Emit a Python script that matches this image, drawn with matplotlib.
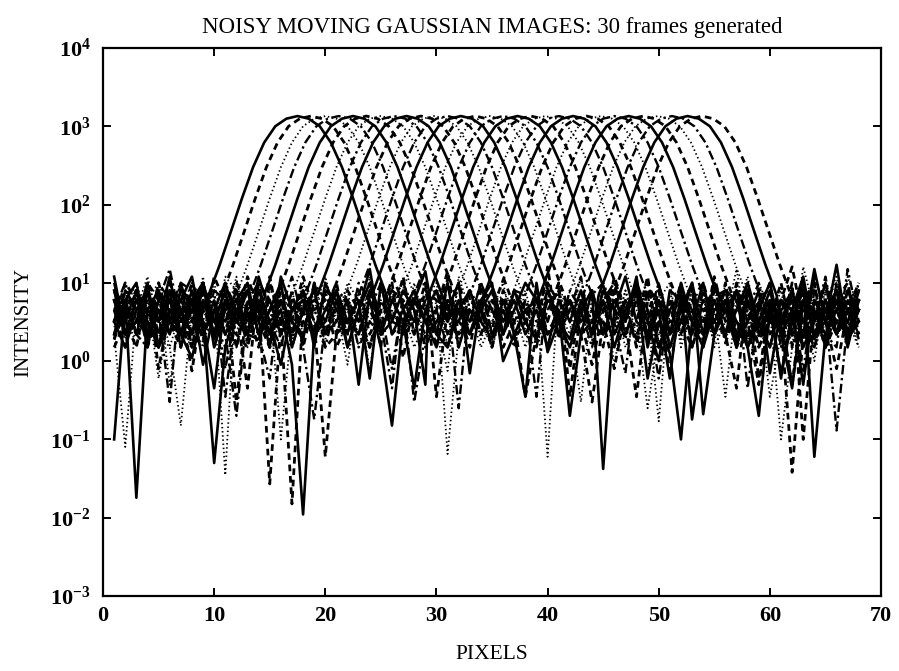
import numpy as np
import matplotlib.pyplot as plt

# pixel positions of every frame (1 .. 68)
pixels = np.arange(1, 69)

# peak centre of each of the 30 frames
frame_centres = [17.5, 18.7, 20.0, 21.2, 22.5, 23.7, 25.0, 26.2, 27.3, 28.6,
                 29.8, 31.0, 32.2, 33.5, 34.8, 36.0, 37.3, 38.5, 39.8, 41.0,
                 42.3, 43.5, 44.8, 46.0, 47.3, 48.6, 49.9, 51.2, 52.6, 53.9]

# gaussian peak, offsets from centre and intensities
peak_offsets = np.arange(-8, 9)
peak_values = [7, 17, 45, 120, 300, 620, 1000, 1250, 1350,
               1250, 1000, 620, 300, 120, 45, 17, 7]

# background noise of each frame, one value per pixel
frame_noise = [
    [2.2, 6, 1.5, 4.5, 3.2, 12, 2.2, 1.1, 4.5, 8, 0.5, 3.2, 10, 2.2, 6, 1.5, 4.5,
     3.2, 8, 2.2, 0.8, 6, 4.5, 10, 1.5, 3.2, 2.7, 6, 14, 2.2, 1.5, 4.5, 8, 3.2,
     1.9, 6, 2.2, 0.35, 10, 1.3, 3.2, 6, 2.2, 8, 1.5, 4.5, 12, 3.2, 2.2, 6, 1.5,
     4.5, 10, 2.2, 3.2, 6, 1.5, 8, 2.7, 4.5, 0.7, 3.2, 10, 6, 2.2, 4.5, 1.9, 3.2],
    [4.5, 1.5, 8, 2.2, 10, 3.2, 1.5, 6, 2.2, 12, 4.5, 0.7, 3.2, 8, 1.5, 4.5, 10,
     2.2, 6, 1.9, 4.5, 12, 2.2, 3.2, 0.45, 8, 4.5, 2.2, 6, 1.5, 10, 3.2, 2.2, 6,
     8, 1.5, 3.2, 4.5, 2.2, 16, 1.9, 6, 3.2, 0.9, 4.5, 8, 2.2, 3.2, 12, 1.5, 4.5,
     2.2, 6, 3.2, 10, 1.7, 4.5, 8, 0.6, 6, 3.2, 14, 2.2, 4.5, 1.5, 8, 3.2, 6],
    [10, 3.2, 2.2, 6, 0.6, 4.5, 8, 3.2, 12, 1.5, 6, 2.2, 4.5, 1.3, 8, 3.2, 2.2,
     6, 1.5, 10, 4.5, 2.2, 3.2, 8, 1.9, 4.5, 10, 2.2, 6, 3.2, 0.75, 12, 4.5, 2.2,
     3.2, 8, 4.5, 1.5, 6, 2.2, 10, 3.2, 0.3, 6, 4.5, 2.2, 8, 2.1, 3.2, 6, 10,
     1.5, 4.5, 2.2, 8, 3.2, 15, 1.9, 4.5, 10, 2.2, 3.2, 6, 1, 8, 2.2, 12, 4.5],
    [1.9, 8, 4.5, 2.2, 6, 15, 3.2, 1.5, 6, 2.2, 10, 4.5, 1.7, 3.2, 6, 12, 2.2,
     4.5, 3.2, 8, 1.5, 6, 2.2, 4.5, 10, 0.35, 3.2, 6, 1.1, 8, 2.2, 4.5, 3.2, 10,
     2.2, 4.5, 1.5, 6, 3.2, 8, 2.2, 4.5, 12, 1.8, 6, 3.2, 0.7, 10, 4.5, 1.5, 6,
     3.2, 2.2, 8, 4.5, 2, 10, 3.2, 6, 2.2, 4.5, 0.5, 8, 3.2, 12, 2.2, 6, 1.9],
    [6, 2.2, 3.2, 10, 1.5, 4.5, 2.2, 8, 3.2, 0.45, 6, 4.5, 2.2, 12, 3.2, 1.5, 8,
     2.2, 4.5, 6, 1.5, 10, 3.2, 2.2, 6, 4.5, 1.7, 8, 3.2, 2.2, 4.5, 10, 0.7, 6,
     4.5, 2.2, 8, 3.2, 1.9, 6, 4.5, 10, 2.2, 3.2, 6, 1.5, 4.5, 8, 0.6, 3.2, 1.25,
     6, 3.2, 2.2, 10, 4.5, 1.5, 6, 3.2, 8, 2.2, 4.5, 12, 2.1, 3.2, 17, 2.2, 4.5],
    [3.2, 10, 6, 1.5, 8, 2.2, 4.5, 6, 1.8, 3.2, 8, 0.3, 6, 4.5, 1.5, 10, 3.2,
     8, 2.2, 4.5, 3.2, 12, 2, 6, 2.2, 3.2, 8, 4.5, 1.5, 6, 2.2, 10, 3.2, 4.5,
     1.5, 6, 3.2, 10, 2.2, 4.5, 8, 0.8, 6, 3.2, 2.2, 12, 4.5, 1.9, 8, 2.2, 3.2,
     10, 1.5, 4.5, 6, 2.2, 0.45, 8, 2.1, 4.5, 6, 2.2, 3.2, 10, 1.5, 4.5, 8, 2.2],
    [2.7, 4.5, 10, 3.2, 2.2, 6, 1.5, 4.5, 8, 2.2, 3.2, 12, 1.5, 6, 2.2, 4.5, 10,
     3.2, 1.5, 6, 0.5, 8, 4.5, 3.2, 10, 2.2, 6, 1.5, 4.5, 3.2, 8, 2.2, 6, 1.9,
     4.5, 10, 2.2, 3.2, 6, 1.5, 4.5, 2.2, 8, 3.2, 10, 0.9, 6, 1.5, 4.5, 3.2, 8,
     2.2, 6, 4.5, 1.75, 10, 3.2, 2.2, 6, 0.35, 2.2, 8, 3.2, 1.5, 6, 12, 2.2, 4.5],
    [8, 2.2, 3.2, 6, 4.5, 2.1, 10, 2.2, 4.5, 3.2, 1.5, 6, 8, 2.2, 0.6, 10, 1.5,
     4.5, 6, 2.2, 10, 1.5, 3.2, 6, 4.5, 2.2, 8, 3.2, 1.9, 12, 4.5, 2.2, 3.2, 6,
     2.2, 3.2, 8, 4.5, 0.35, 10, 2.2, 6, 3.2, 4.5, 1.5, 8, 2.2, 6, 3.2, 10, 2.2,
     4.5, 2.2, 6, 3.2, 8, 1.9, 4.5, 10, 2.2, 3.2, 6, 0.75, 8, 4.5, 2.2, 3.2, 10],
    [4.5, 6, 2.2, 8, 1.5, 3.2, 6, 12, 2.2, 4.5, 3.2, 8, 2.2, 1.9, 4.5, 6, 3.2,
     1.9, 10, 3.2, 6, 2.2, 4.5, 0.45, 8, 3.2, 6, 2.2, 10, 4.5, 3.2, 1.5, 6, 8,
     3.2, 2.2, 4.5, 10, 6, 2.2, 3.2, 1.5, 4.5, 8, 2.2, 6, 3.2, 10, 1.9, 4.5, 0.6,
     8, 3.2, 1.9, 6, 2.2, 4.5, 10, 3.2, 1.5, 6, 4.5, 2.2, 15, 3.2, 6, 1.9, 4.5],
    [1.5, 3.2, 8, 4.5, 2.2, 10, 3.2, 4.5, 1.9, 6, 2.2, 3.2, 12, 4.5, 2.2, 8, 4.5,
     3.2, 2.2, 8, 4.5, 1.9, 6, 10, 2.2, 4.5, 0.3, 1.5, 6, 2.2, 8, 4.5, 3.2, 2.2,
     6, 4.5, 1.9, 3.2, 8, 2.2, 4.5, 6, 2.2, 10, 3.2, 0.8, 4.5, 6, 2.2, 8, 3.2,
     3.2, 6, 4.5, 2.2, 10, 1.5, 3.2, 0.5, 4.5, 2.2, 8, 3.2, 4.5, 1.9, 6, 10, 2.2],
    [6, 1.9, 4.5, 12, 3.2, 2.2, 8, 1.5, 6, 3.2, 4.5, 2.2, 10, 6, 1.5, 3.2, 8,
     2.2, 4.5, 12, 3.2, 6, 1.5, 4.5, 2.2, 8, 3.2, 10, 0.6, 4.5, 2.2, 6, 1.5, 4.5,
     10, 3.2, 6, 2.2, 1.5, 4.5, 8, 3.2, 12, 2.2, 4.5, 6, 1.5, 3.2, 8, 2.2, 4.5,
     1.9, 8, 3.2, 4.5, 0.35, 6, 2.2, 10, 4.5, 3.2, 1.5, 6, 2.2, 8, 3.2, 4.5, 1.5],
    [3.2, 8, 2.2, 1.5, 6, 4.5, 10, 3.2, 2.2, 8, 0.35, 4.5, 3.2, 10, 2.2, 6, 1.9,
     8, 3.2, 1.5, 6, 2.2, 10, 4.5, 3.2, 6, 1.5, 4.5, 8, 2.2, 12, 3.2, 1.9, 6,
     2.2, 4.5, 10, 1.5, 6, 3.2, 2.2, 8, 4.5, 1.5, 6, 10, 3.2, 2.2, 4.5, 0.6, 6,
     4.5, 2.2, 8, 3.2, 6, 1.9, 10, 2.2, 4.5, 6, 3.2, 1.5, 12, 4.5, 2.2, 8, 3.2],
    [12, 2.2, 6, 3.2, 1.5, 8, 4.5, 2.2, 10, 1.9, 6, 3.2, 8, 2.2, 4.5, 10, 1.5,
     4.5, 8, 2.2, 3.2, 6, 0.5, 8, 4.5, 1.9, 10, 3.2, 2.2, 6, 4.5, 1.5, 8, 3.2,
     6, 1.5, 2.2, 8, 4.5, 10, 3.2, 1.9, 6, 2.2, 8, 4.5, 3.2, 12, 1.5, 6, 2.2,
     3.2, 10, 4.5, 2.2, 6, 3.2, 1.5, 8, 4.5, 2.2, 0.45, 6, 3.2, 10, 2.2, 4.5, 6],
    [4.5, 3.2, 1.5, 8, 2.2, 6, 3.2, 10, 4.5, 2.2, 8, 1.5, 6, 3.2, 12, 2.2, 6,
     1.5, 6, 4.5, 10, 2.2, 3.2, 8, 1.5, 6, 4.5, 2.2, 12, 3.2, 1.9, 8, 4.5, 2.2,
     3.2, 8, 4.5, 2.2, 10, 1.5, 6, 3.2, 4.5, 8, 2.2, 3.2, 6, 1.5, 10, 4.5, 0.75,
     6, 4.5, 2.2, 12, 3.2, 8, 1.9, 4.5, 6, 2.2, 10, 3.2, 4.5, 1.5, 6, 3.2, 8],
    [2.2, 12, 4.5, 3.2, 6, 1.5, 4.5, 8, 3.2, 10, 2.2, 6, 1.9, 4.5, 3.2, 8, 2.2,
     10, 3.2, 1.9, 6, 4.5, 2.2, 12, 3.2, 6, 2.2, 8, 4.5, 1.5, 6, 3.2, 10, 4.5,
     1.5, 6, 3.2, 8, 2.2, 4.5, 1.9, 10, 3.2, 6, 4.5, 2.2, 8, 3.2, 0.7, 6, 4.5,
     2.2, 8, 6, 3.2, 1.9, 4.5, 12, 2.2, 6, 4.5, 3.2, 8, 2.2, 10, 4.5, 1.5, 6],
    [8, 4.5, 3.2, 2.2, 10, 6, 1.9, 3.2, 8, 4.5, 2.2, 0.6, 4.5, 8, 3.2, 1.5, 6,
     4.5, 1.9, 8, 2.2, 3.2, 6, 4.5, 10, 2.2, 3.2, 6, 1.5, 8, 4.5, 2.2, 6, 1.5,
     8, 2.2, 6, 4.5, 3.2, 1.5, 12, 2.2, 6, 3.2, 10, 4.5, 1.9, 8, 2.2, 3.2, 6,
     2.2, 4.5, 1.5, 8, 6, 3.2, 2.2, 4.5, 10, 1.5, 6, 4.5, 3.2, 2.2, 8, 6, 3.2],
    [3.2, 6, 10, 1.9, 4.5, 2.2, 8, 6, 0.9, 4.5, 10, 3.2, 2.2, 6, 1.5, 12, 4.5,
     6, 2.2, 3.2, 8, 1.5, 4.5, 15, 2.2, 3.2, 8, 4.5, 0.5, 10, 3.2, 6, 2.2, 8,
     4.5, 1.5, 6, 2.2, 8, 3.2, 4.5, 6, 1.5, 3.2, 8, 2.2, 4.5, 10, 3.2, 1, 8,
     6, 3.2, 10, 2.2, 4.5, 8, 1.5, 3.2, 6, 0.6, 4.5, 10, 1.9, 6, 3.2, 2.2, 8],
    [1.9, 4.5, 2.2, 10, 6, 3.2, 4.5, 1.5, 8, 6, 2.2, 4.5, 0.45, 10, 6, 2.2, 3.2,
     12, 4.5, 6, 1.5, 3.2, 8, 2.2, 4.5, 10, 1.1, 6, 3.2, 4.5, 2.2, 8, 1.5, 10,
     3.2, 6, 1.5, 4.5, 8, 2.2, 6, 14, 3.2, 4.5, 1.5, 6, 3.2, 0.35, 6, 8, 1.5,
     3.2, 1.5, 6, 4.5, 8, 2.2, 6, 1.5, 3.2, 10, 2.2, 8, 6, 3.2, 0.8, 4.5, 10],
    [4.5, 8, 3.2, 6, 2.2, 1.5, 6, 4.5, 3.2, 2.2, 12, 8, 2.2, 4.5, 1.9, 6, 3.2,
     2.2, 8, 4.5, 3.2, 10, 6, 0.75, 8, 4.5, 2.2, 3.2, 6, 10, 1.5, 4.5, 2.2, 6,
     8, 3.2, 2.2, 6, 4.5, 1.9, 10, 2.2, 6, 3.2, 8, 0.5, 6, 4.5, 2.2, 10, 3.2,
     4.5, 2.2, 8, 1.5, 3.2, 6, 4.5, 2.2, 8, 3.2, 1.5, 16, 4.5, 6, 2.2, 3.2, 1.9],
    [10, 2.2, 6, 4.5, 1.5, 3.2, 10, 8, 2.2, 6, 0.8, 4.5, 3.2, 8, 2.2, 4.5, 12,
     3.2, 4.5, 2.2, 8, 6, 1.5, 3.2, 2.2, 6, 10, 4.5, 1.5, 3.2, 6, 2.2, 12, 0.6,
     4.5, 2.2, 10, 3.2, 1.5, 6, 4.5, 2.2, 8, 1.5, 3.2, 10, 4.5, 2.2, 6, 1.5, 4.5,
     8, 4.5, 3.2, 6, 2.2, 10, 0.45, 6, 3.2, 4.5, 8, 2.2, 1.5, 6, 10, 4.5, 2.2],
    [3.2, 1.5, 4.5, 8, 3.2, 6, 2.2, 4.5, 10, 1.5, 4.5, 6, 10, 2.2, 3.2, 0.9, 4.5,
     8, 1.5, 10, 4.5, 3.2, 2.2, 6, 1.5, 8, 3.2, 6, 4.5, 2.2, 10, 1.5, 4.5, 3.2,
     6, 8, 3.2, 1.9, 6, 2.2, 3.2, 10, 1.5, 6, 2.2, 4.5, 8, 3.2, 1.5, 6, 2.2,
     10, 3.2, 1.5, 4.5, 6, 2.2, 3.2, 8, 0.7, 4.5, 6, 3.2, 2.2, 4.5, 8, 1.5, 6],
    [6, 3.2, 8, 1.5, 4.5, 10, 4.5, 2.2, 6, 3.2, 8, 2.2, 1.5, 6, 4.5, 3.2, 2.2,
     4.5, 6, 3.2, 2.2, 8, 4.5, 1.5, 6, 3.2, 12, 2.2, 8, 6, 3.2, 4.5, 1.5, 8,
     2.2, 10, 4.5, 6, 3.2, 8, 2.2, 0.75, 4.5, 6, 10, 3.2, 2.2, 6, 4.5, 3.2, 1.5,
     4.5, 6, 10, 3.2, 2.2, 8, 4.5, 1.5, 6, 3.2, 0.5, 6, 10, 1.5, 3.2, 6, 4.5],
    [2.2, 4.5, 1.5, 6, 10, 2.2, 8, 3.2, 1.5, 6, 4.5, 10, 3.2, 2.2, 8, 6, 1.5,
     6, 3.2, 2.2, 4.5, 0.9, 8, 3.2, 6, 2.2, 4.5, 1.5, 3.2, 8, 2.2, 6, 4.5, 3.2,
     1.5, 4.5, 6, 2.2, 10, 4.5, 1.5, 6, 3.2, 2.2, 8, 4.5, 3.2, 0.45, 10, 2.2, 6,
     3.2, 8, 2.2, 6, 4.5, 1.5, 10, 2.2, 3.2, 8, 1.5, 4.5, 2.2, 6, 3.2, 4.5, 8],
    [4.5, 10, 3.2, 2.2, 6, 4.5, 3.2, 8, 2.2, 4.5, 3.2, 1.5, 6, 10, 2.2, 4.5, 3.2,
     2.2, 10, 6, 3.2, 4.5, 2.2, 8, 4.5, 0.8, 6, 3.2, 2.2, 4.5, 1.5, 6, 3.2, 10,
     4.5, 3.2, 8, 1.5, 2.2, 6, 3.2, 4.5, 2.2, 0.35, 6, 3.2, 8, 4.5, 2.2, 6, 3.2,
     1.5, 4.5, 3.2, 6, 2.2, 4.5, 8, 3.2, 1.5, 6, 3.2, 8, 4.5, 2.2, 1.5, 15, 3.2],
    [8, 2.2, 6, 4.5, 3.2, 8, 1.5, 6, 3.2, 10, 1.5, 4.5, 8, 3.2, 6, 2.2, 4.5,
     6, 2.2, 4.5, 8, 3.2, 6, 0.6, 10, 2.2, 4.5, 8, 3.2, 1.5, 6, 4.5, 2.2, 6,
     10, 1, 2.2, 4.5, 6, 3.2, 8, 2.2, 4.5, 10, 1.5, 6, 2.2, 8, 3.2, 4.5, 2.2,
     6, 2.2, 4.5, 3.2, 8, 6, 1.5, 4.5, 10, 2.2, 4.5, 0.5, 6, 3.2, 8, 2.2, 4.5],
    [3.2, 6, 2.2, 10, 0.8, 4.5, 6, 3.2, 8, 2.2, 6, 3.2, 4.5, 1.5, 10, 3.2, 6,
     4.5, 8, 1.5, 2.2, 6, 3.2, 4.5, 2.2, 8, 6, 3.2, 10, 0.35, 4.5, 3.2, 8, 2.2,
     6, 2.2, 8, 3.2, 4.5, 10, 1.5, 6, 8, 3.2, 2.2, 4.5, 6, 1.5, 3.2, 6, 10,
     2.2, 6, 8, 4.5, 3.2, 1.5, 6, 2.2, 4.5, 6, 16, 3.2, 1.5, 4.5, 2.2, 6, 3.2],
    [4.5, 3.2, 6, 2.2, 8, 0.5, 4.5, 10, 6, 3.2, 2.2, 8, 4.5, 2.2, 6, 1.5, 3.2,
     10, 4.5, 2.2, 6, 8, 1.5, 6, 3.2, 4.5, 2.2, 10, 1.5, 6, 8, 2.2, 4.5, 1.5,
     3.2, 6, 4.5, 8, 2.2, 6, 3.2, 4.5, 10, 0.75, 4.5, 2.2, 6, 3.2, 8, 2.2, 4.5,
     3.2, 1.5, 6, 2.2, 4.5, 10, 3.2, 2.2, 6, 1.5, 3.2, 4.5, 8, 2.2, 6, 3.2, 1.5],
    [2.2, 8, 4.5, 3.2, 6, 2.2, 10, 1.5, 4.5, 8, 6, 2.2, 3.2, 6, 4.5, 2.2, 8,
     1.5, 6, 3.2, 4.5, 2.2, 10, 6, 3.2, 0.45, 8, 4.5, 2.2, 3.2, 6, 1.5, 8, 4.5,
     2.2, 4.5, 3.2, 6, 1.5, 8, 2.2, 4.5, 3.2, 6, 4.5, 8, 1.5, 6, 3.2, 15, 4.5,
     6, 3.2, 2.2, 8, 4.5, 3.2, 6, 0.7, 8, 3.2, 2.2, 6, 4.5, 1.5, 10, 4.5, 2.2],
    [6, 2.2, 3.2, 4.5, 8, 3.2, 2.2, 6, 10, 3.2, 4.5, 6, 2.2, 8, 3.2, 4.5, 0.9,
     3.2, 2.2, 8, 6, 1.5, 4.5, 10, 2.2, 6, 3.2, 0.45, 4.5, 8, 3.2, 6, 2.2, 4.5,
     8, 3.2, 6, 2.2, 4.5, 1.5, 6, 3.2, 8, 2.2, 6, 1.5, 4.5, 10, 2.2, 3.2, 6,
     2.2, 4.5, 6, 0.6, 3.2, 8, 2.2, 6, 4.5, 3.2, 8, 1.5, 3.2, 6, 2.2, 4.5, 6],
    [3.2, 4.5, 8, 2.2, 6, 3.2, 4.5, 0.75, 6, 4.5, 2.2, 10, 6, 3.2, 1.5, 6, 2.2,
     8, 3.2, 4.5, 2.2, 6, 3.2, 1.5, 4.5, 8, 2.2, 6, 3.2, 4.5, 14, 2.2, 3.2, 6,
     1.5, 8, 2.2, 4.5, 6, 3.2, 10, 0.35, 4.5, 2.2, 8, 6, 3.2, 2.2, 4.5, 8, 1.5,
     4.5, 8, 1.5, 6, 3.2, 2.2, 4.5, 8, 2.2, 6, 1.5, 3.2, 6, 4.5, 2.2, 8, 4.5],
]

# deep noise dips that stand out below the band: frame, pixel, intensity
dip_frame = [8, 14, 0, 7, 18, 24, 22, 15, 21, 26, 25, 28, 27, 29, 20, 23, 26,
             19, 5, 2, 4, 9, 0, 10, 6, 4, 8, 12, 12, 10, 1, 13, 0, 7]
dip_pixel = [1, 2, 3, 6, 7, 10, 11, 12, 15, 16, 17, 18, 19, 20, 26, 28, 31,
             32, 38, 40, 42, 44, 45, 49, 50, 52, 53, 54, 59, 61, 62, 63, 64, 66]
dip_value = [0.1, 0.08, 0.018, 0.3, 0.15, 0.05, 0.035, 0.2, 0.027, 0.1, 0.015,
             0.011, 0.18, 0.06, 0.15, 0.3, 0.065, 0.25, 0.35, 0.06, 0.2, 0.3,
             0.042, 0.25, 0.17, 0.1, 0.18, 0.21, 0.2, 0.1, 0.038, 0.1, 0.06, 0.13]

x_ticks = [0, 10, 20, 30, 40, 50, 60, 70]
y_exponents = [-3, -2, -1, 0, 1, 2, 3, 4]

line_styles = [dict(linestyle='-', linewidth=1.9),
               dict(linestyle=(0, (2.4, 1.7)), linewidth=2.0),
               dict(linestyle=(0, (0.8, 1.5)), linewidth=1.3),
               dict(linestyle=(0, (4, 1.5, 1, 1.5)), linewidth=1.7)]

plt.rcParams['font.family'] = ['Liberation Serif', 'DejaVu Serif']
plt.rcParams['mathtext.fontset'] = 'custom'
plt.rcParams['mathtext.rm'] = 'Liberation Serif'
plt.rcParams['mathtext.bf'] = 'Liberation Serif:bold'

noise = np.array(frame_noise, dtype=float)
noise[dip_frame, np.array(dip_pixel) - 1] = dip_value

fig = plt.figure(figsize=(8.99, 6.71), dpi=100)
ax = fig.add_axes([0.1146, 0.1118, 0.8654, 0.8167])

for i, centre in enumerate(frame_centres):
    outside = np.abs(pixels - centre) > 8
    x = np.concatenate([pixels[outside], centre + peak_offsets])
    y = np.concatenate([noise[i][outside], peak_values])
    order = np.argsort(x)
    ax.plot(x[order], y[order], color='black', **line_styles[i % 4])

ax.set_yscale('log')
ax.set_xlim(0, 70)
ax.set_ylim(1e-3, 1e4)
ax.set_xticks(x_ticks)
ax.set_xticklabels([str(t) for t in x_ticks], fontsize=16, fontweight='bold')
ax.set_yticks([10.0 ** e for e in y_exponents])
ax.set_yticklabels([r'$\mathbf{10^{%d}}$' % e for e in y_exponents], fontsize=16)
ax.minorticks_off()
ax.tick_params(direction='in', length=6, width=1.4, top=True, right=True)
ax.tick_params(axis='x', pad=7)
ax.tick_params(axis='y', pad=9)
for spine in ax.spines.values():
    spine.set_linewidth(1.6)

ax.set_title('NOISY MOVING GAUSSIAN IMAGES: 30 frames generated', fontsize=16.5, pad=11)
ax.set_xlabel('PIXELS', fontsize=15.5)
ax.set_ylabel('INTENSITY', fontsize=15)
ax.xaxis.set_label_coords(0.5, -0.09)
ax.yaxis.set_label_coords(-0.09, 0.5)

fig.savefig('out.png', dpi=100)
